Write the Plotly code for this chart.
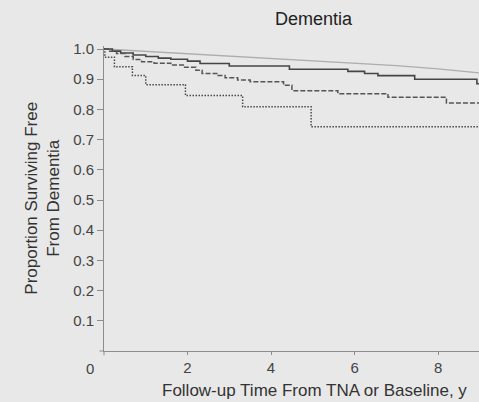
import plotly.graph_objects as go

# Kaplan-Meier style step curves (time in years, proportion dementia-free)
ref_t = [0, 1, 2, 3, 4, 5, 6, 7, 8, 8.98]
ref_s = [1.0, 0.992, 0.984, 0.977, 0.970, 0.962, 0.954, 0.945, 0.934, 0.921]

solid_t = [0, 0.2, 0.4, 0.7, 1.0, 1.3, 1.6, 2.0, 2.3, 3.0, 4.44, 5.84, 6.24, 6.56, 7.44, 8.93, 8.98]
solid_s = [1.0, 0.993, 0.987, 0.980, 0.975, 0.970, 0.966, 0.960, 0.952, 0.944, 0.933, 0.926, 0.919, 0.912, 0.900, 0.885, 0.885]

dash_t = [0, 0.1, 0.3, 0.5, 0.7, 0.9, 1.2, 1.6, 1.9, 2.2, 2.35, 2.7, 2.9, 3.2, 3.5, 4.3, 4.5, 5.6, 6.8, 8.2, 8.98]
dash_s = [1.0, 0.993, 0.985, 0.975, 0.965, 0.958, 0.953, 0.947, 0.940, 0.930, 0.919, 0.912, 0.905, 0.897, 0.892, 0.880, 0.862, 0.852, 0.840, 0.821, 0.821]

dot_t = [0, 0.02, 0.25, 0.68, 1.0, 1.95, 3.32, 4.96, 8.98]
dot_s = [1.0, 0.973, 0.941, 0.912, 0.882, 0.846, 0.809, 0.743, 0.743]

x_ticks = [2, 4, 6, 8]
y_ticks = [0.1, 0.2, 0.3, 0.4, 0.5, 0.6, 0.7, 0.8, 0.9, 1.0]

FONT = "Liberation Sans, Arial, sans-serif"
BG = "#e8e8e8"
AXC = "#8c8c8c"

fig = go.Figure()
fig.add_trace(go.Scatter(x=ref_t, y=ref_s, mode="lines",
                         line=dict(color="#adadad", width=1.3), showlegend=False))
fig.add_trace(go.Scatter(x=solid_t, y=solid_s, mode="lines", line_shape="hv",
                         line=dict(color="#454545", width=1.6), showlegend=False))
fig.add_trace(go.Scatter(x=dash_t, y=dash_s, mode="lines", line_shape="hv",
                         line=dict(color="#555555", width=1.5, dash="5px,2px"), showlegend=False))
fig.add_trace(go.Scatter(x=dot_t, y=dot_s, mode="lines", line_shape="hv",
                         line=dict(color="#4a4a4a", width=1.5, dash="1.5px,1.5px"), showlegend=False))

fig.update_layout(
    width=479, height=402,
    margin=dict(l=104, r=0, t=46, b=51),
    paper_bgcolor=BG, plot_bgcolor=BG,
    font=dict(family=FONT, color="#3a3a3a"),
    xaxis=dict(range=[0, 8.98], tickvals=x_ticks, ticktext=[str(v) for v in x_ticks],
               showgrid=False, zeroline=False, showline=True, linecolor=AXC, linewidth=1,
               ticks="outside", ticklen=3, tickcolor=AXC,
               tickfont=dict(size=15, color="#444"), fixedrange=True),
    yaxis=dict(range=[0, 1.01], tickvals=y_ticks, ticktext=[f"{v:.1f}" for v in y_ticks],
               showgrid=False, zeroline=False, showline=True, linecolor=AXC, linewidth=1,
               ticks="outside", ticklen=6, tickcolor=AXC,
               tickfont=dict(size=15, color="#444"), fixedrange=True),
    shapes=[
        dict(type="line", xref="paper", yref="paper", x0=-0.012, x1=0, y0=0, y1=0,
             line=dict(color=AXC, width=1)),
        dict(type="line", xref="paper", yref="paper", x0=0, x1=0, y0=0, y1=-0.014,
             line=dict(color=AXC, width=1)),
    ],
    annotations=[
        dict(text="Dementia", xref="paper", yref="paper", x=0.56, y=1.09,
             showarrow=False, font=dict(size=18, color="#222"), xanchor="center", yanchor="middle"),
        dict(text="0", xref="paper", yref="paper", x=-0.037, y=-0.059,
             showarrow=False, font=dict(size=15, color="#444"), xanchor="center", yanchor="middle"),
        dict(text="Follow-up Time From TNA or Baseline, y", xref="paper", yref="paper",
             x=0.561, y=-0.128, showarrow=False, font=dict(size=17, color="#333"),
             xanchor="center", yanchor="middle"),
        dict(text="Proportion Surviving Free<br>From Dementia", xref="paper", yref="paper",
             x=-0.165, y=0.5, showarrow=False, textangle=-90, font=dict(size=17, color="#333"),
             xanchor="center", yanchor="middle"),
    ],
)

fig.write_html("out.html", config={"displayModeBar": False},
               post_script="document.body.style.margin='0';document.body.style.overflow='hidden';")
